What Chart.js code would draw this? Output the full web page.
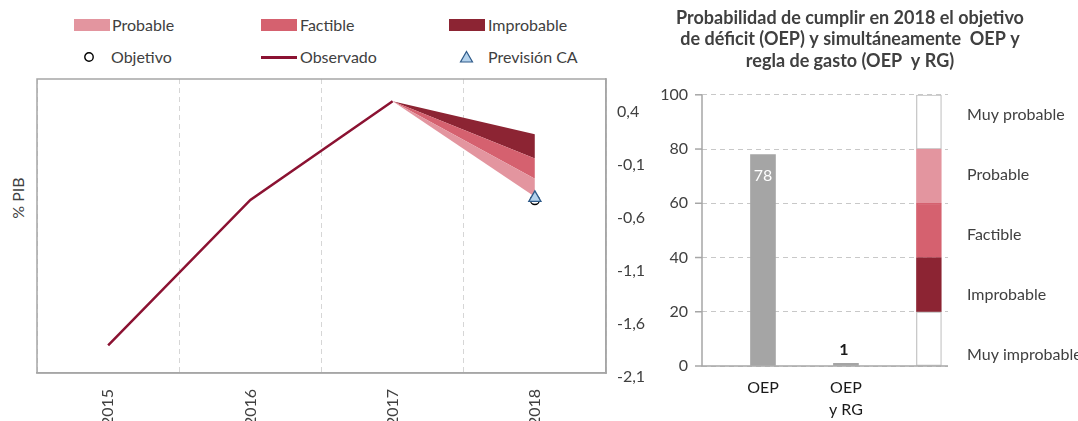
<!DOCTYPE html>
<html lang="es">
<head>
<meta charset="utf-8">
<title>Probabilidad de cumplir el objetivo de déficit</title>
<script src="https://cdn.jsdelivr.net/npm/chart.js@4.4.1/dist/chart.umd.min.js"></script>
<style>
  html, body { margin: 0; padding: 0; background: #fff; }
  body {
    position: relative; width: 1078px; height: 421px; overflow: hidden;
    font-family: Lato, "DejaVu Sans", sans-serif; color: #404040;
  }
  .box { position: absolute; }
  #leftBox { left: 0; top: 0; width: 660px; height: 421px; }
  #rightBox { left: 622px; top: 0; width: 456px; height: 421px; }
  .lg { position: absolute; font-size: 16px; line-height: 20px; white-space: nowrap; }
  .sw { position: absolute; width: 36px; height: 12px; }
  #yTitle {
    position: absolute; left: 17px; top: 198px; font-size: 16px; white-space: nowrap;
    transform: translate(-50%, -50%) rotate(-90deg);
  }
</style>
</head>
<body>
<div id="legend">
  <div class="sw" style="left:74px;top:19px;background:#e3959f"></div>
  <span class="lg" style="left:112px;top:15px">Probable</span>
  <div class="sw" style="left:261px;top:19px;background:#d5616f"></div>
  <span class="lg" style="left:300px;top:15px">Factible</span>
  <div class="sw" style="left:449px;top:19px;background:#8c2433"></div>
  <span class="lg" style="left:488px;top:15px">Improbable</span>

  <svg style="position:absolute;left:83px;top:51px" width="12" height="12">
    <circle cx="6" cy="6" r="4.2" fill="#fff" stroke="#000" stroke-width="1.4"/>
  </svg>
  <span class="lg" style="left:111px;top:47px">Objetivo</span>
  <div style="position:absolute;left:261px;top:56px;width:36px;height:2.5px;background:#8b1232"></div>
  <span class="lg" style="left:300px;top:47px">Observado</span>
  <svg style="position:absolute;left:459px;top:50px" width="15" height="14">
    <polygon points="7.5,1.5 13.5,12 1.5,12" fill="#b4d2ec" stroke="#2f5b8a" stroke-width="1.2"/>
  </svg>
  <span class="lg" style="left:488px;top:47px">Previsión CA</span>
</div>
<div id="yTitle">% PIB</div>
<div class="box" id="leftBox"><canvas id="fanChart"></canvas></div>
<div class="box" id="rightBox"><canvas id="probChart"></canvas></div>

<script>
Chart.defaults.font.family = "Lato, 'DejaVu Sans', sans-serif";
Chart.defaults.color = "#404040";
Chart.defaults.animation = false;

// ── Left panel: observed balance and 2018 fan ─────────────────────
const years = ["2015", "2016", "2017", "2018"];
const observado = [-1.84, -0.47, 0.46, null];
const fanLower = [null, null, 0.46, -0.44];
const fanProbable = [null, null, 0.46, -0.27];
const fanFactible = [null, null, 0.46, -0.08];
const fanImprobable = [null, null, 0.46, 0.15];
const objetivo = [null, null, null, -0.47];
const prevision = [null, null, null, -0.45];
const pibTicks = [-2.1, -1.6, -1.1, -0.6, -0.1, 0.4];

// ── Right panel: probabilities ────────────────────────────────────
const titleLines = [
  "Probabilidad de cumplir en 2018 el objetivo",
  "de déficit (OEP) y simultáneamente  OEP y",
  "regla de gasto (OEP  y RG)",
];
const oepLabels = ["OEP", ["OEP", "y RG"], ""];
const oepProb = [78, 1];
const bandNames = ["Muy improbable", "Improbable", "Factible", "Probable", "Muy probable"];
const bandWidths = [20, 20, 20, 20, 20];
const bandColors = ["#ffffff", "#8c2433", "#d5616f", "#e3959f", "#ffffff"];
const bandBorders = ["#bfbfbf", "#8c2433", "#d5616f", "#e3959f", "#bfbfbf"];

const framePlugin = {
  id: "frame",
  beforeDatasetsDraw(chart) {
    const { ctx, chartArea: a } = chart;
    ctx.save();
    ctx.strokeStyle = "#a6a6a6";
    ctx.lineWidth = 1.5;
    ctx.strokeRect(a.left, a.top, a.right - a.left, a.bottom - a.top);
    ctx.restore();
  },
};

// solid axis lines (left and bottom) for the bar panel
const axisLines = {
  id: "axisLines",
  afterDatasetsDraw(chart) {
    const { ctx, chartArea: a } = chart;
    ctx.save();
    ctx.strokeStyle = "#a6a6a6";
    ctx.lineWidth = 1.5;
    ctx.beginPath();
    ctx.moveTo(a.left, a.top);
    ctx.lineTo(a.left, a.bottom);
    ctx.lineTo(a.right, a.bottom);
    ctx.stroke();
    chart.scales.y.ticks.forEach((t) => {
      const py = chart.scales.y.getPixelForValue(t.value);
      ctx.beginPath();
      ctx.moveTo(a.left - 7, py);
      ctx.lineTo(a.left, py);
      ctx.stroke();
    });
    ctx.restore();
  },
};

function fanLine(data, color, target) {
  return {
    data,
    borderColor: "transparent",
    borderWidth: 0,
    pointRadius: 0,
    backgroundColor: color,
    fill: target,
  };
}

new Chart(document.getElementById("fanChart"), {
  type: "line",
  data: {
    labels: years,
    datasets: [
      {
        label: "Previsión CA", data: prevision, showLine: false,
        pointStyle: "triangle", pointRadius: 7,
        pointBackgroundColor: "#b4d2ec", pointBorderColor: "#2f5b8a", pointBorderWidth: 1.3,
      },
      {
        label: "Objetivo", data: objetivo, showLine: false,
        pointStyle: "circle", pointRadius: 4.5,
        pointBackgroundColor: "#fff", pointBorderColor: "#000", pointBorderWidth: 1.3,
      },
      { label: "Observado", data: observado, borderColor: "#8b1232", borderWidth: 2.5, pointRadius: 0, fill: false },
      fanLine(fanLower, "transparent", false),
      fanLine(fanProbable, "#e3959f", 3),
      fanLine(fanFactible, "#d5616f", 4),
      fanLine(fanImprobable, "#8c2433", 5),
    ],
  },
  options: {
    responsive: true,
    maintainAspectRatio: false,
    layout: { padding: { left: 37, top: 79, right: 0, bottom: 0 } },
    plugins: { legend: { display: false }, tooltip: { enabled: false } },
    scales: {
      x: {
        offset: true,
        grid: { offset: true, color: "#d6d6d6", lineWidth: 1, drawTicks: false },
        border: { display: true, color: "#a6a6a6", width: 1.5, dash: [5, 4] },
        ticks: { minRotation: 90, maxRotation: 90, padding: 16, font: { size: 16 }, color: "#404040" },
        afterFit: (s) => { s.height = 48; },
      },
      y: {
        position: "right",
        min: -2.1,
        max: 0.67,
        grid: { display: false, drawTicks: false },
        border: { display: true, color: "#a6a6a6", width: 1.5 },
        afterBuildTicks: (s) => { s.ticks = pibTicks.map((v) => ({ value: v })); },
        ticks: {
          callback: (v) => v.toFixed(1).replace(".", ","),
          padding: 11, labelOffset: 4, font: { size: 16 }, color: "#404040",
        },
        afterFit: (s) => { s.width = 54; },
      },
    },
  },
  plugins: [framePlugin],
});

const valueLabels = {
  id: "valueLabels",
  afterDatasetsDraw(chart) {
    const { ctx } = chart;
    const meta = chart.getDatasetMeta(0);
    ctx.save();
    ctx.textAlign = "center";
    ctx.textBaseline = "middle";
    meta.data.forEach((bar, i) => {
      const v = oepProb[i];
      if (v > 10) {
        ctx.fillStyle = "#ffffff";
        ctx.font = "16px Lato";
        ctx.fillText(String(v), bar.x, bar.y + 21);
      } else {
        ctx.fillStyle = "#1a1a1a";
        ctx.font = "bold 16px Lato";
        ctx.fillText(String(v), bar.x - 2, bar.y - 13);
      }
    });
    ctx.restore();
  },
};

new Chart(document.getElementById("probChart"), {
  type: "bar",
  data: {
    datasets: [
      {
        label: "Probabilidad",
        data: oepProb.map((v, i) => ({ x: i + 1, y: v })),
        backgroundColor: "#a5a5a5",
        barThickness: 25,
      },
      ...bandWidths.map((v, i) => ({
        label: bandNames[i],
        data: [{ x: 3, y: v }],
        backgroundColor: bandColors[i],
        borderColor: bandBorders[i],
        borderWidth: 1.2,
        borderSkipped: false,
        barThickness: 25,
      })),
    ],
  },
  options: {
    responsive: true,
    maintainAspectRatio: false,
    layout: { padding: 0 },
    plugins: {
      legend: { display: false },
      tooltip: { enabled: false },
      title: {
        display: true,
        text: titleLines,
        color: "#404040",
        font: { size: 18, weight: "bold", lineHeight: 1.2 },
        padding: { top: 7, bottom: 23 },
      },
    },
    scales: {
      x: {
        type: "linear",
        offset: false,
        min: 0.265,
        max: 3.23,
        stacked: true,
        grid: { display: false, drawTicks: false },
        border: { display: false },
        afterBuildTicks: (s) => { s.ticks = oepLabels.map((_, i) => ({ value: i + 1 })); },
        ticks: {
          callback: (v) => oepLabels[v - 1],
          padding: 11, maxRotation: 0, autoSkip: false,
          font: { size: 16, lineHeight: 1.38 }, color: "#1a1a1a",
        },
        afterFit: (s) => { s.height = 55; },
      },
      y: {
        min: 0,
        max: 100,
        stacked: true,
        grid: { color: "#c8c8c8", drawTicks: false },
        border: { display: false, dash: [5, 4] },
        ticks: { stepSize: 20, padding: 14, font: { size: 16 }, color: "#404040" },
        afterFit: (s) => { s.width = 80; },
      },
      y2: {
        position: "right",
        min: -0.19,
        max: 4.33,
        grid: { display: false, drawTicks: false },
        border: { display: false },
        afterBuildTicks: (s) => { s.ticks = bandNames.map((_, i) => ({ value: i })); },
        ticks: { callback: (v) => bandNames[v], padding: 19, font: { size: 16 }, color: "#404040" },
        afterFit: (s) => { s.width = 130; },
      },
    },
  },
  plugins: [valueLabels, axisLines],
});
</script>
</body>
</html>
